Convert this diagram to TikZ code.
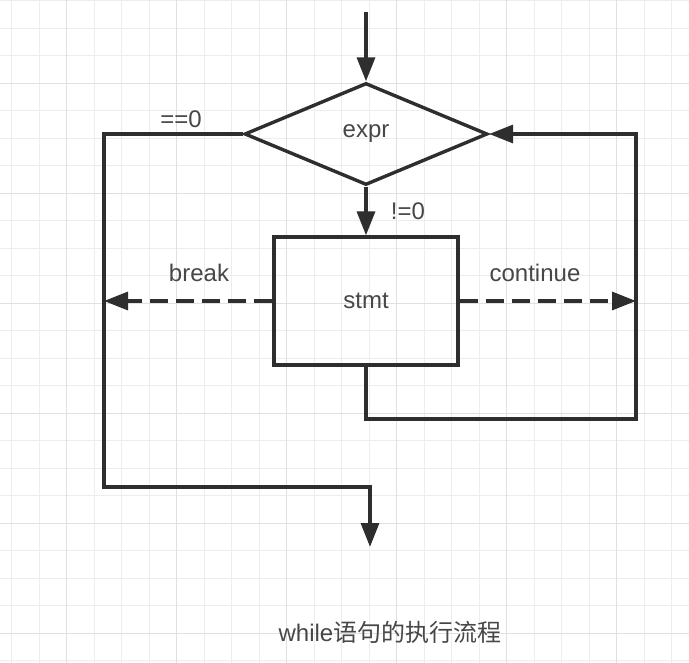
\documentclass[tikz,border=0pt]{standalone}
\usepackage{fontspec}
\setmainfont{Liberation Sans}
\newfontfamily\cjk{Noto Sans CJK SC}
\usetikzlibrary{arrows.meta, positioning, shapes.geometric}

\begin{document}
\begin{tikzpicture}[x=1pt, y=-1pt, line width=3.4pt, color=black!82, text=black!72,
    font=\fontsize{24}{28}\selectfont,
    >={Triangle[length=24pt, width=18pt]},
    decision/.style={diamond, draw, minimum width=243pt, minimum height=102pt, inner sep=0pt},
    block/.style={rectangle, draw, minimum width=184pt, minimum height=128pt},
    jump/.style={dash pattern=on 18pt off 8pt},
    minorline/.style={line width=0.8pt, draw=black!7},
    majorline/.style={line width=0.9pt, draw=black!12}]
    \useasboundingbox (0,0) rectangle (689,663);
    \fill[white] (0,0) rectangle (689,663);

    % background grid
    \foreach \gx in {0,...,24}
        \draw[minorline] ({11.7+27.5*\gx},0) -- ({11.7+27.5*\gx},663);
    \foreach \gy in {0,...,24}
        \draw[minorline] (0,{0.5+27.5*\gy}) -- (689,{0.5+27.5*\gy});
    \foreach \gx in {66.7,176.7,286.7,396.7,506.7,616.7}
        \draw[majorline] (\gx,0) -- (\gx,663);
    \foreach \gy in {83,193,303,413,523,633}
        \draw[majorline] (0,\gy) -- (689,\gy);

    \node[decision] (expr) at (366,134) {expr};
    \node[block] (stmt) at (366,301) {stmt};

    \coordinate (entry) at (366,12);
    \coordinate (lt) at (104,134);
    \coordinate (lb) at (104,487);
    \coordinate (exitc) at (370,487);
    \coordinate (exit) at (370,547);
    \coordinate (rt) at (636,134);
    \coordinate (rb) at (636,419);
    \coordinate (brk) at (104,301);
    \coordinate (cont) at (636,301);

    \draw[->] (entry) -- (expr.north);
    \draw[->] (expr.south) -- (stmt.north);
    \draw[->] (expr.west) -- (lt) -- (lb) -- (exitc) -- (exit);
    \draw[->] (stmt.south) -- (stmt.south |- rb) -- (rb) -- (rt) -- (expr.east);
    \draw[->, jump] (stmt.west) -- (brk);
    \draw[->, jump] (stmt.east) -- (cont);

    % edge labels
    \node (zero) at (181,119) {==0};
    \node (nonzero) at (408,211) {!=0};
    \node (breaklbl) at (199,273) {break};
    \node (contlbl) at (535,273) {continue};

    \node (caption) at (390,632) {while{\cjk 语句的执行流程}};
\end{tikzpicture}
\end{document}
